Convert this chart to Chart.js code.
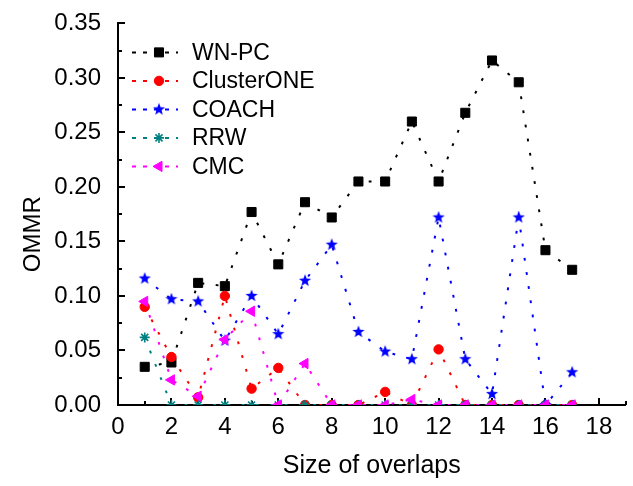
<!DOCTYPE html>
<html><head><meta charset="utf-8">
<script src="https://cdn.jsdelivr.net/npm/chart.js@4/dist/chart.umd.min.js"></script>
<style>html,body{margin:0;padding:0;background:#fff;}canvas{display:block;}</style>
</head><body>
<canvas id="c" width="633" height="486"></canvas>
<script>
// ---- data ----
const overlapSizes = [1, 2, 3, 4, 5, 6, 7, 8, 9, 10, 11, 12, 13, 14, 15, 16, 17];
const wnpcValues = [0.035, 0.039, 0.112, 0.109, 0.177, 0.129, 0.186, 0.172, 0.205, 0.205, 0.260, 0.205, 0.268, 0.316, 0.296, 0.142, 0.124];
const clusterOneValues = [0.090, 0.044, 0.007, 0.100, 0.015, 0.034, 0, 0, 0, 0.012, 0, 0.051, 0, 0, 0, 0, 0];
const coachValues = [0.116, 0.097, 0.095, 0.059, 0.100, 0.065, 0.114, 0.147, 0.067, 0.049, 0.042, 0.172, 0.042, 0.010, 0.172, 0, 0.030];
const rrwValues = [0.062, 0, 0, 0, 0, 0, 0, 0, 0, 0, 0, 0, 0, 0, 0, 0, 0];
const cmcValues = [0.095, 0.023, 0.008, 0.060, 0.086, 0, 0.038, 0, 0, 0, 0.005, 0, 0, 0, 0, 0, 0];
const seriesNames = ['WN-PC', 'ClusterONE', 'COACH', 'RRW', 'CMC'];
const xTickValues = [0, 2, 4, 6, 8, 10, 12, 14, 16, 18];
const xTickLabels = ['0', '2', '4', '6', '8', '10', '12', '14', '16', '18'];
const yTickValues = [0, 0.05, 0.10, 0.15, 0.20, 0.25, 0.30, 0.35];
const yTickLabels = ['0.00', '0.05', '0.10', '0.15', '0.20', '0.25', '0.30', '0.35'];
const xAxisTitle = 'Size of overlaps';
const yAxisTitle = 'OMMR';

const FONT = '"Liberation Sans", Arial, sans-serif';

function makeStar(color, R, r) {
  const s = 2 * Math.ceil(R) + 2;
  const cv = document.createElement('canvas');
  cv.width = s; cv.height = s;
  const c = cv.getContext('2d');
  c.fillStyle = color;
  c.beginPath();
  for (let i = 0; i < 10; i++) {
    const a = -Math.PI / 2 + i * Math.PI / 5;
    const rr = (i % 2) ? r : R;
    c.lineTo(s / 2 + rr * Math.cos(a), s / 2 + rr * Math.sin(a));
  }
  c.closePath();
  c.fill();
  return cv;
}
const blueStar = makeStar('#0000ff', 6.4, 2.7);

function pts(vals) { return overlapSizes.map((x, i) => ({x: x, y: vals[i]})); }

const styles = [
  {color: '#000000', pointStyle: 'rect', radius: 6.4, rotation: 0, bw: 1, order: 5},
  {color: '#ff0000', pointStyle: 'circle', radius: 4.7, rotation: 0, bw: 1, order: 4},
  {color: '#0000ff', pointStyle: blueStar, radius: 6, rotation: 0, bw: 0, order: 3},
  {color: '#008080', pointStyle: 'star', radius: 5, rotation: 0, bw: 1.6, order: 2},
  {color: '#ff00ff', pointStyle: 'triangle', radius: 6, rotation: -90, bw: 1, order: 1}
];
const seriesValues = [wnpcValues, clusterOneValues, coachValues, rrwValues, cmcValues];

const datasets = seriesNames.map((name, i) => ({
  label: name,
  data: pts(seriesValues[i]),
  borderColor: styles[i].color,
  backgroundColor: styles[i].color,
  borderWidth: 2,
  borderDash: [2.8, 11.5],
  borderCapStyle: 'butt',
  tension: 0,
  fill: false,
  pointStyle: styles[i].pointStyle,
  pointRadius: styles[i].radius,
  pointRotation: styles[i].rotation,
  pointBackgroundColor: styles[i].color,
  pointBorderColor: styles[i].color,
  pointBorderWidth: styles[i].bw,
  order: styles[i].order
}));

const tickMarks = {
  id: 'inwardTicks',
  beforeDatasetsDraw(chart) {
    const ctx = chart.ctx;
    const xs = chart.scales.x, ys = chart.scales.y;
    const area = chart.chartArea;
    ctx.save();
    ctx.strokeStyle = '#000';
    ctx.lineWidth = 2;
    ctx.beginPath();
    for (let v = 0; v <= 19; v++) {
      const px = Math.round(xs.getPixelForValue(v));
      const len = (v % 2 === 0) ? 7 : 4;
      ctx.moveTo(px, area.bottom);
      ctx.lineTo(px, area.bottom - len);
    }
    for (let k = 0; k <= 14; k++) {
      const v = k * 0.025;
      const py = Math.round(ys.getPixelForValue(v));
      const len = (k % 2 === 0) ? 7 : 4;
      ctx.moveTo(area.left, py);
      ctx.lineTo(area.left + len, py);
    }
    ctx.stroke();
    ctx.restore();
  }
};

const insideLegend = {
  id: 'insideLegend',
  afterDraw(chart) {
    const ctx = chart.ctx;
    const area = chart.chartArea;
    const x0 = area.left + 14, x1 = area.left + 60, xm = area.left + 41, xt = area.left + 74;
    seriesNames.forEach((name, i) => {
      const y = area.top + 29 + i * 28.5;
      const st = styles[i];
      ctx.save();
      ctx.strokeStyle = st.color;
      ctx.lineWidth = 2;
      ctx.setLineDash([4, 7]);
      ctx.beginPath();
      ctx.moveTo(x0, y); ctx.lineTo(x1, y);
      ctx.stroke();
      ctx.setLineDash([]);
      ctx.fillStyle = st.color;
      ctx.strokeStyle = st.color;
      ctx.lineWidth = st.bw;
      Chart.helpers.drawPoint(ctx, {pointStyle: st.pointStyle, radius: st.radius, rotation: st.rotation, borderWidth: st.bw}, xm, y);
      ctx.fillStyle = '#000';
      ctx.font = '23px ' + FONT;
      ctx.textAlign = 'left';
      ctx.textBaseline = 'middle';
      ctx.fillText(name, xt, y + 1);
      ctx.restore();
    });
  }
};

function near(v, arr) { return arr.findIndex(a => Math.abs(a - v) < 1e-6); }

new Chart(document.getElementById('c'), {
  type: 'line',
  data: {datasets: datasets},
  options: {
    responsive: false,
    animation: false,
    devicePixelRatio: 1,
    layout: {padding: {top: 20, right: 0, left: 0, bottom: 0}},
    plugins: {legend: {display: false}, tooltip: {enabled: false}},
    scales: {
      x: {
        type: 'linear', min: 0, max: 19,
        grid: {display: false},
        border: {display: true, color: '#000', width: 2},
        ticks: {
          stepSize: 1, autoSkip: false, maxRotation: 0, padding: 0,
          color: '#000', font: {family: FONT, size: 24},
          callback: (v) => { const k = near(v, xTickValues); return k >= 0 ? xTickLabels[k] : ''; }
        },
        title: {display: true, text: xAxisTitle, color: '#000', font: {family: FONT, size: 25}, padding: {top: 0, bottom: 5}},
        afterFit(s) { s.height = 81; }
      },
      y: {
        type: 'linear', min: 0, max: 0.35,
        grid: {display: false},
        border: {display: true, color: '#000', width: 2},
        ticks: {
          stepSize: 0.025, autoSkip: false, padding: 9,
          color: '#000', font: {family: FONT, size: 24},
          callback: (v) => { const k = near(v, yTickValues); return k >= 0 ? yTickLabels[k] : ''; }
        },
        title: {display: true, text: yAxisTitle + '\u0020\u0020\u0020\u0020\u0020\u0020', color: '#000', font: {family: FONT, size: 24}, padding: {top: 19, bottom: 0}},
        afterFit(s) { s.width = 118; }
      }
    }
  },
  plugins: [tickMarks, insideLegend]
});
</script>
</body></html>
